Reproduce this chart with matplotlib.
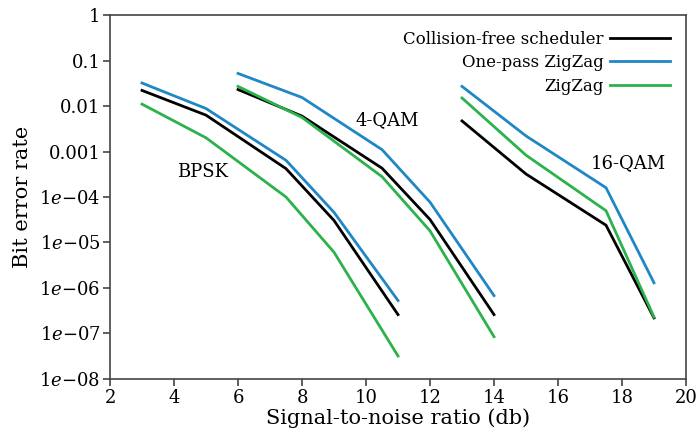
import matplotlib

matplotlib.use("Agg")
import matplotlib.pyplot as plt
from matplotlib.ticker import FixedLocator, FixedFormatter

plt.rcParams["font.family"] = ["DejaVu Serif"]
plt.rcParams["mathtext.fontset"] = "dejavuserif"

SERIES = ["Collision-free scheduler", "One-pass ZigZag", "ZigZag"]
COLORS = ["#000000", "#1f87c5", "#2bb24c"]

# BPSK
bpsk_snr = [3, 5, 7.5, 9, 11]
bpsk_collision_free = [0.022, 0.0063, 4.2e-4, 3.05e-5, 2.6e-7]
bpsk_one_pass = [0.032, 0.0088, 6.4e-4, 4.6e-5, 5.3e-7]
bpsk_zigzag = [0.011, 0.0020, 1.0e-4, 6.1e-6, 3.2e-8]

# 4-QAM
qam4_snr = [6, 8, 10.5, 12, 14]
qam4_collision_free = [0.023, 0.006, 4.3e-4, 3.2e-5, 2.6e-7]
qam4_one_pass = [0.052, 0.0154, 0.0011, 7.7e-5, 6.8e-7]
qam4_zigzag = [0.027, 0.0056, 2.8e-4, 1.8e-5, 8.5e-8]

# 16-QAM
qam16_snr = [13, 15, 17.5, 19]
qam16_collision_free = [0.0047, 3.2e-4, 2.4e-5, 2.2e-7]
qam16_one_pass = [0.027, 0.0022, 1.6e-4, 1.3e-6]
qam16_zigzag = [0.015, 8.3e-4, 5.0e-5, 2.3e-7]

GROUP_LABELS = ["BPSK", "4-QAM", "16-QAM"]
GROUP_LABEL_POS = [(4.9, 10 ** -3.44), (10.66, 10 ** -2.30), (18.2, 10 ** -3.25)]

Y_TICKS = [1, 0.1, 0.01, 0.001, 1e-4, 1e-5, 1e-6, 1e-7, 1e-8]
Y_TICK_LABELS = ["1", "0.1", "0.01", "0.001", "1$e$\u221204", "1$e$\u221205",
                 "1$e$\u221206", "1$e$\u221207", "1$e$\u221208"]
X_TICKS = [2, 4, 6, 8, 10, 12, 14, 16, 18, 20]

groups = [
    (bpsk_snr, [bpsk_collision_free, bpsk_one_pass, bpsk_zigzag]),
    (qam4_snr, [qam4_collision_free, qam4_one_pass, qam4_zigzag]),
    (qam16_snr, [qam16_collision_free, qam16_one_pass, qam16_zigzag]),
]

fig = plt.figure(figsize=(6.99, 4.43), dpi=100)
ax = fig.add_axes([0.1574, 0.1445, 0.9814 - 0.1574, 0.9661 - 0.1445])

for g, (snr, curves) in enumerate(groups):
    for name, color, values in zip(SERIES, COLORS, curves):
        ax.plot(snr, values, color=color, linewidth=2,
                label=name if g == 0 else None)

for label, (x, y) in zip(GROUP_LABELS, GROUP_LABEL_POS):
    ax.text(x, y, label, ha="center", va="center", fontsize=13)

ax.set_yscale("log")
ax.set_xlim(2, 20)
ax.set_ylim(1e-8, 1)
ax.yaxis.set_major_locator(FixedLocator(Y_TICKS))
ax.yaxis.set_major_formatter(FixedFormatter(Y_TICK_LABELS))
ax.yaxis.set_minor_locator(FixedLocator([]))
ax.set_xticks(X_TICKS)
ax.tick_params(axis="both", labelsize=13, length=5, width=1.2, color="#444444",
               pad=2)

for spine in ax.spines.values():
    spine.set_color("#444444")
    spine.set_linewidth(1.2)

ax.set_xlabel("Signal-to-noise ratio (db)", fontsize=15, labelpad=1)
ax.set_ylabel("Bit error rate", fontsize=15, labelpad=5)

ax.legend(loc="upper right", frameon=False, markerfirst=False, fontsize=12,
          handlelength=3.6, handletextpad=0.4, labelspacing=0.38,
          borderaxespad=0.5, borderpad=0.45)

fig.savefig("out.png", dpi=100)
